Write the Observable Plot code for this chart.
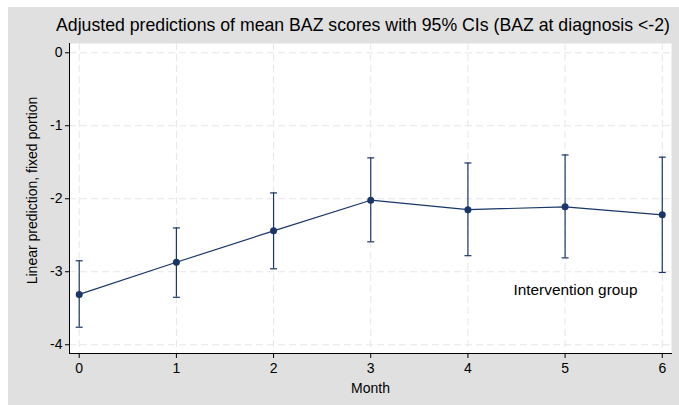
<!DOCTYPE html>
<html><head><meta charset="utf-8">
<script src="https://cdn.jsdelivr.net/npm/d3@7"></script>
<script src="https://cdn.jsdelivr.net/npm/@observablehq/plot@0.6"></script>
<style>
body{margin:0;background:#fff;}
#wrap{position:relative;width:679px;height:405px;background:#fff;overflow:hidden;font-family:"Liberation Sans",Arial,sans-serif;}
#panel{position:absolute;left:8px;top:7px;width:671px;height:398px;background:#e0e0e0;}
#title{position:absolute;left:355px;top:7px;transform:translateX(-50%);white-space:nowrap;font-size:17.7px;line-height:22px;color:#000;}
#chart{position:absolute;left:0;top:0;}
</style></head>
<body>
<div id="wrap"><div id="panel"><div id="chart"></div><div id="title">Adjusted predictions of mean BAZ scores with 95% CIs (BAZ at diagnosis &lt;-2)</div></div></div>
<script>
const months = [0, 1, 2, 3, 4, 5, 6];
const estimate = [-3.31, -2.87, -2.44, -2.02, -2.15, -2.11, -2.22];
const lower = [-3.76, -3.35, -2.96, -2.59, -2.78, -2.81, -3.01];
const upper = [-2.85, -2.40, -1.92, -1.44, -1.51, -1.40, -1.43];
const yTicks = [0, -1, -2, -3, -4];
const xTitle = ["Month"];
const yTitle = ["Linear prediction, fixed portion"];
const annotation = ["Intervention group"];

const navy = "#1a3668";
const font = "'Liberation Sans', Arial, sans-serif";
const data = months.map((m, i) => ({month: m, est: estimate[i], lo: lower[i], hi: upper[i]}));
const cap = {draw(ctx) { ctx.moveTo(-3.5, 0); ctx.lineTo(3.5, 0); }};
const gridStyle = {stroke: "#e6e6e6", strokeOpacity: 1, strokeDasharray: "7,4", strokeWidth: 1};
const fmt = d => String(d);

const plot = Plot.plot({
  width: 671, height: 398,
  marginLeft: 61, marginRight: 8, marginTop: 36, marginBottom: 52,
  style: {background: "transparent", fontFamily: font, fontSize: "14px", color: "#000"},
  x: {domain: [-0.1, 6.095]},
  y: {domain: [-4.12, 0.127]},
  marks: [
    Plot.frame({fill: "white", stroke: null}),
    Plot.gridX(months, gridStyle),
    Plot.gridY(yTicks, gridStyle),
    Plot.axisX({ticks: months, tickFormat: fmt, tickSize: 5, tickPadding: 5, fontSize: 14, label: null}),
    Plot.axisY({ticks: yTicks, tickFormat: fmt, tickSize: 4, tickPadding: 3, fontSize: 14, label: null}),
    Plot.text(xTitle, {frameAnchor: "bottom", dy: 35, lineAnchor: "middle", fontSize: 14, fill: "#000"}),
    Plot.text(yTitle, {frameAnchor: "left", dx: -37, dy: -8, rotate: -90, textAnchor: "middle", lineAnchor: "middle", fontSize: 14, fill: "#000"}),
    Plot.frame({anchor: "left", stroke: "black"}),
    Plot.frame({anchor: "bottom", stroke: "black"}),
    Plot.ruleX(data, {x: "month", y1: "lo", y2: "hi", stroke: navy, strokeWidth: 1.2}),
    Plot.dot(data, {x: "month", y: "lo", symbol: cap, stroke: navy, strokeWidth: 1.2}),
    Plot.dot(data, {x: "month", y: "hi", symbol: cap, stroke: navy, strokeWidth: 1.2}),
    Plot.line(data, {x: "month", y: "est", stroke: navy, strokeWidth: 1.2}),
    Plot.dot(data, {x: "month", y: "est", fill: navy, r: 3.5}),
    Plot.text(annotation, {frameAnchor: "bottom-right", dx: -34, dy: -63, textAnchor: "end", lineAnchor: "middle", fontSize: 15.4, fill: "#000"})
  ]
});
document.getElementById("chart").append(plot);
</script>
</body></html>
